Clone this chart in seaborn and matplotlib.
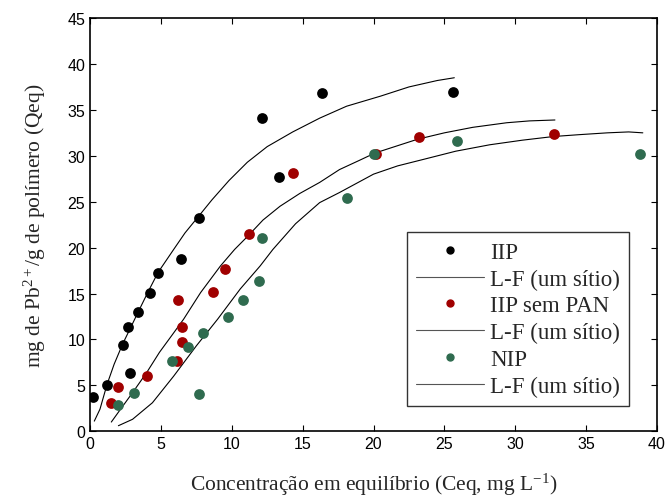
import pandas as pd
import seaborn as sns
from matplotlib import pyplot as plt

# pontos experimentais
iip_x = [0.2, 1.2, 2.3, 2.8, 2.7, 3.4, 4.2, 4.8, 6.4, 7.7, 12.1, 13.3, 16.4, 25.6]
iip_y = [3.7, 5.0, 9.4, 6.3, 11.4, 13.0, 15.1, 17.2, 18.8, 23.2, 34.1, 27.7, 36.8, 36.9]

sem_pan_x = [1.5, 2.0, 4.0, 6.1, 6.2, 6.5, 6.5, 8.7, 9.5, 11.2, 14.3, 20.2, 23.2, 32.7]
sem_pan_y = [3.1, 4.8, 6.0, 7.6, 14.3, 11.4, 9.7, 15.2, 17.7, 21.5, 28.1, 30.2, 32.1, 32.4]

nip_x = [2.0, 3.1, 5.8, 6.9, 7.7, 8.0, 9.7, 10.8, 11.9, 12.1, 18.1, 20.0, 25.9, 38.8]
nip_y = [2.9, 4.2, 7.7, 9.2, 4.0, 10.7, 12.4, 14.3, 16.4, 21.1, 25.4, 30.2, 31.6, 30.2]

# curvas L-F (um sítio)
fit1_x = [0.3, 0.7, 1.2, 1.7, 2.3, 2.9, 3.4, 4.1, 4.8, 5.9, 6.7, 7.6, 8.6, 9.8, 11.1,
          12.5, 14.3, 16.2, 18.1, 20.5, 22.5, 24.5, 25.7]
fit1_y = [1.1, 2.4, 5.1, 7.3, 9.5, 11.4, 13.0, 15.2, 17.3, 19.8, 21.6, 23.3, 25.2, 27.3, 29.3,
          31.0, 32.6, 34.1, 35.4, 36.5, 37.5, 38.2, 38.5]

fit2_x = [1.5, 2.2, 3.0, 4.0, 4.9, 5.8, 6.6, 7.8, 9.2, 10.2, 11.1, 12.2, 13.4, 14.8, 16.2,
          17.6, 19.0, 20.1, 21.5, 23.1, 25.0, 27.0, 29.4, 31.0, 32.8]
fit2_y = [1.0, 2.5, 4.2, 6.4, 8.6, 10.5, 12.2, 15.1, 18.0, 19.8, 21.2, 23.0, 24.5, 25.9, 27.1,
          28.5, 29.5, 30.3, 31.0, 31.8, 32.5, 33.1, 33.6, 33.8, 33.9]

fit3_x = [2.0, 3.0, 4.4, 5.9, 7.5, 9.0, 10.6, 12.0, 12.9, 14.5, 16.2, 17.6, 20.0, 21.7, 23.5,
          25.8, 28.2, 30.5, 32.7, 34.5, 36.5, 38.0, 39.0]
fit3_y = [0.6, 1.3, 3.1, 6.0, 9.3, 12.2, 15.5, 18.0, 19.8, 22.6, 24.9, 26.0, 28.0, 28.9, 29.6,
          30.5, 31.2, 31.7, 32.1, 32.3, 32.5, 32.6, 32.5]

sns.set_style("ticks")
plt.rcParams['font.family'] = ['Liberation Sans', 'DejaVu Sans']
plt.rcParams['mathtext.fontset'] = 'custom'
plt.rcParams['mathtext.rm'] = 'Liberation Serif'
plt.rcParams['mathtext.it'] = 'Liberation Serif:italic'

serif = ['Liberation Serif', 'DejaVu Serif']

fig = plt.figure(figsize=(6.67, 5.02), dpi=100)
ax = fig.add_axes([0.135, 0.139, 0.85, 0.823])

series = [
    ("IIP", iip_x, iip_y, fit1_x, fit1_y, "#000000"),
    ("IIP sem PAN", sem_pan_x, sem_pan_y, fit2_x, fit2_y, "#A00000"),
    ("NIP", nip_x, nip_y, fit3_x, fit3_y, "#2F6B4F"),
]

handles = []
labels = []
for nome, px, py, fx, fy, cor in series:
    pts = pd.DataFrame({"x": px, "y": py})
    fit = pd.DataFrame({"x": fx, "y": fy})
    sns.lineplot(data=fit, x="x", y="y", ax=ax, color="black", linewidth=0.8,
                 sort=False, estimator=None)
    sns.scatterplot(data=pts, x="x", y="y", ax=ax, color=cor, s=60,
                    edgecolor=cor, linewidth=0, zorder=3)
    h_pt = plt.Line2D([], [], marker="o", linestyle="none", color=cor, markersize=5)
    h_ln = plt.Line2D([], [], color="#555555", linewidth=0.8)
    handles += [h_pt, h_ln]
    labels += [nome, "L-F (um sítio)"]

ax.set_xlim(0, 40)
ax.set_ylim(0, 45)
ax.set_xticks(range(0, 41, 5))
ax.set_yticks(range(0, 46, 5))
ax.tick_params(direction="in", top=True, right=True, length=4, width=0.8,
               labelsize=11.5, colors="black")
for sp in ax.spines.values():
    sp.set_visible(True)
    sp.set_color("black")
    sp.set_linewidth(1.2)

ax.set_xlabel("Concentração em equilíbrio (Ceq, mg L$^{-1}$)", family=serif,
              fontsize=15.5, labelpad=14)
ax.set_ylabel("mg de Pb$^{2+}$/g de polímero (Qeq)", family=serif, fontsize=15.5,
              labelpad=14)

leg = ax.legend(handles, labels, loc="lower right", bbox_to_anchor=(0.951, 0.061),
                prop={"family": serif, "size": 16.5}, frameon=True, fancybox=False,
                handlelength=3.0, handletextpad=0.25, labelspacing=0.25,
                borderpad=0.4, borderaxespad=0)
leg.get_frame().set_edgecolor("black")
leg.get_frame().set_linewidth(1.0)

fig.savefig("out.png", dpi=100)
